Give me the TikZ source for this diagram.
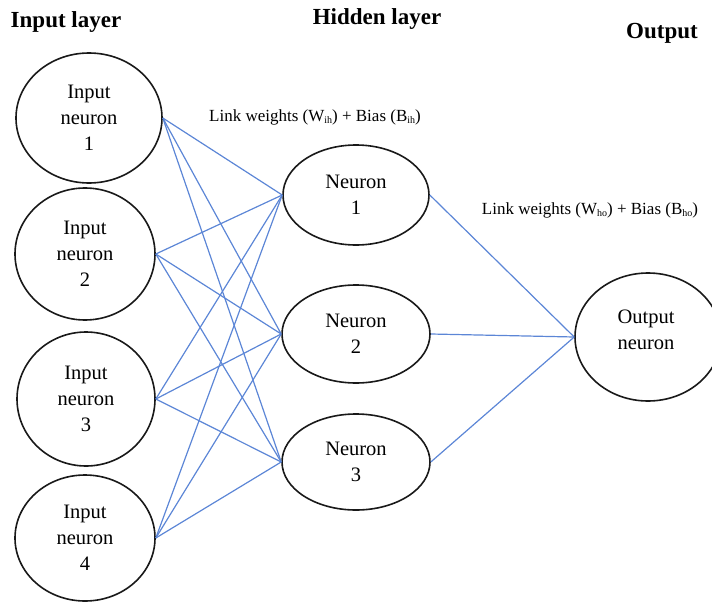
\documentclass[tikz,border=0pt]{standalone}
\usepackage{fontspec}
\setmainfont{Liberation Serif}
\usetikzlibrary{shapes.geometric}
\definecolor{linkblue}{RGB}{92,134,214}
\definecolor{rimgray}{RGB}{25,25,25}
\newcommand{\sbx}[1]{\raisebox{-0.35ex}{\fontsize{10}{10}\selectfont #1}}
\tikzset{
  neuronfont/.style={font=\fontsize{20.5}{26}\selectfont},
  neuron/.style={ellipse, draw=rimgray, line width=1.6pt, inner sep=0pt, align=center, neuronfont},
  link/.style={draw=linkblue, line width=1.2pt},
  header/.style={font=\fontsize{23}{26}\selectfont\bfseries, inner sep=0pt},
  wlabel/.style={font=\fontsize{17}{20}\selectfont, inner sep=0pt}
}
\begin{document}
\begin{tikzpicture}[x=1pt,y=-1pt]
\useasboundingbox (0,0) rectangle (712,602);
% headers
\node[header] (hin) at (66,22) {Input layer};
\node[header] (hhid) at (377,19) {Hidden layer};
\node[header] (hout) at (662,33) {Output};
% input neurons
\node[neuron, minimum width=146pt, minimum height=130pt] (i1) at (89,118) {Input\\neuron\\1};
\node[neuron, minimum width=140pt, minimum height=132pt] (i2) at (85,254) {Input\\neuron\\2};
\node[neuron, minimum width=138pt, minimum height=134pt] (i3) at (86,399) {Input\\neuron\\3};
\node[neuron, minimum width=140pt, minimum height=126pt] (i4) at (85,538) {Input\\neuron\\4};
% hidden neurons
\node[neuron, minimum width=146pt, minimum height=100pt] (h1) at (356,195) {Neuron\\1};
\node[neuron, minimum width=148pt, minimum height=98pt] (h2) at (356,334) {Neuron\\2};
\node[neuron, minimum width=148pt, minimum height=96pt] (h3) at (356,462) {Neuron\\3};
% output neuron
\node[neuron, minimum width=146pt, minimum height=128pt] (o) at (648,337) {};
\node[neuronfont, align=center, inner sep=0pt] (otext) at (646,330) {Output\\neuron};
% weight labels
\node[wlabel] (w1) at (315,117) {Link weights (W\sbx{ih}) + Bias (B\sbx{ih})};
\node[wlabel] (w2) at (590,210) {Link weights (W\sbx{ho}) + Bias (B\sbx{ho})};
% links
\foreach \i in {i1,i2,i3,i4}{
  \foreach \h in {h1,h2,h3}{
    \draw[link] (\i.east) -- (\h.west);
  }
}
\foreach \h in {h1,h2,h3}{
  \draw[link] (\h.east) -- (o.west);
}
\end{tikzpicture}
\end{document}
